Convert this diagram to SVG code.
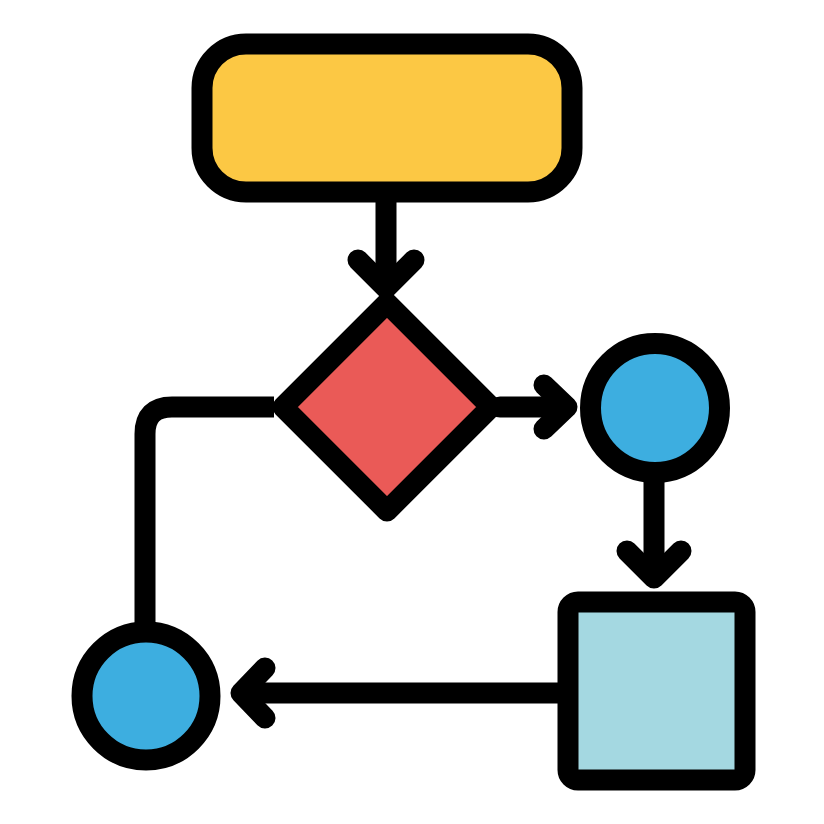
<svg xmlns="http://www.w3.org/2000/svg" width="824" height="824" viewBox="0 0 824 824">
<style>
.ln{fill:none;stroke:#000;stroke-width:21;stroke-linecap:round;stroke-linejoin:round}
.nd{stroke:#000;stroke-width:21;stroke-linejoin:round}
</style>
<rect width="824" height="824" fill="#fff"/>
<g id="connectors">
<path class="ln" d="M386 192 V286"/>
<path class="ln" d="M358 260 L386 288 L414 260"/>
<path class="ln" d="M500 407 H566"/>
<path class="ln" d="M544 385 L567 407 L544 429"/>
<path class="ln" d="M654 472 V576"/>
<path class="ln" d="M627 551 L654 578 L681 551"/>
<path class="ln" d="M568 693 H242"/>
<path class="ln" d="M265 668 L241 693 L265 718"/>
<path class="ln" d="M274 407 H172 Q145 407 145 434 V632" style="stroke-linecap:butt"/>
</g>
<g id="start"><rect class="nd" x="202" y="44" width="370" height="148" rx="44" fill="#FCC844"/></g>
<g id="decision"><polygon class="nd" points="387,303 491,407 387,511 283,407" fill="#EA5A57"/></g>
<g id="circle-right"><circle class="nd" cx="655" cy="408" r="64.5" fill="#3DAEE0"/></g>
<g id="process"><rect class="nd" x="568" y="602" width="177" height="178" rx="10" fill="#A4D8E1"/></g>
<g id="circle-left"><circle class="nd" cx="146" cy="696" r="64" fill="#3DAEE0"/></g>
</svg>
